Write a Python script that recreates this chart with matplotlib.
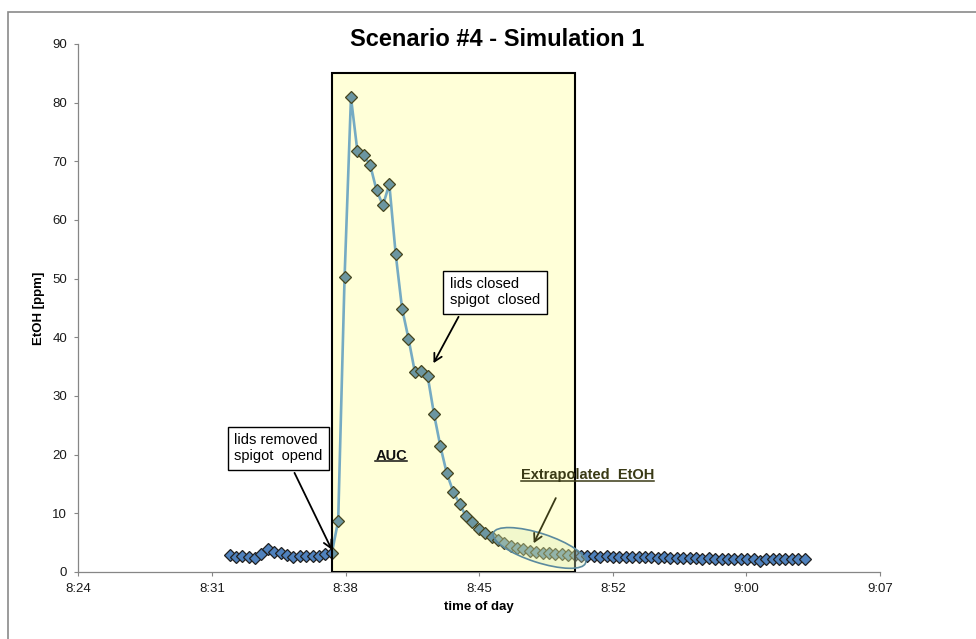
import matplotlib
matplotlib.use("Agg")
import matplotlib.pyplot as plt
import numpy as np
from matplotlib.patches import Rectangle, Ellipse
from matplotlib.lines import Line2D
from matplotlib.transforms import ScaledTranslation

plt.rcParams["font.family"] = ["Liberation Sans", "DejaVu Sans"]

# EtOH readings [ppm], one every ~20.7 s starting at 8:32:09
etoh_ppm = [
    2.9, 2.6, 2.8, 2.6, 2.4, 3.1, 3.9, 3.4, 3.2, 2.9, 2.6, 2.8, 2.8, 2.8, 2.8, 3.0, 3.2,
    8.7, 50.2, 80.9, 71.8, 71.0, 69.4, 65.1, 62.5, 66.1, 54.2,
    44.9, 39.8, 34.1, 34.3, 33.4, 26.9, 21.4, 16.8, 13.7, 11.6, 9.5, 8.5, 7.4, 6.6, 6.0,
    5.45, 4.9, 4.5, 4.15, 3.9, 3.6, 3.45, 3.3, 3.2, 3.1, 3.0, 2.9, 2.85,
    2.8, 2.75, 2.7, 2.6, 2.7, 2.6, 2.55, 2.6, 2.55, 2.5,
    2.55, 2.5, 2.4, 2.5, 2.45, 2.4, 2.4, 2.35, 2.4, 2.3,
    2.35, 2.3, 2.3, 2.25, 2.3, 2.2, 2.25, 2.2, 1.9, 2.2,
    2.25, 2.2, 2.2, 2.2, 2.2, 2.2,
]
first_sample = (8, 32, 9)          # h, m, s
sample_interval_s = 20.66

# AUC window (sample indices)
auc_start, auc_end = 16, 54
auc_top = 85
x_tick_labels = ["8:24", "8:31", "8:38", "8:45", "8:52", "9:00", "9:07"]
y_ticks = [0, 10, 20, 30, 40, 50, 60, 70, 80, 90]


def hm(h, m, s=0):
    """time of day -> minutes after 8:00"""
    return (h - 8) * 60 + m + s / 60.0


t0 = hm(*first_sample)
times = t0 + np.arange(len(etoh_ppm)) * sample_interval_s / 60.0

fig = plt.figure(figsize=(9.76, 6.39), dpi=100)
W, H = 976, 639
ax = fig.add_axes([78.3 / W, 67 / H, 801.7 / W, 528 / H])

# data series
ax.plot(times, etoh_ppm, color="#5A9AE6", lw=1.9, zorder=3,
        marker="D", markersize=5.8, markerfacecolor="#4F81BD",
        markeredgecolor="#202020", markeredgewidth=0.9)

# AUC region overlay
ax.add_patch(Rectangle((times[auc_start], 0), times[auc_end] - times[auc_start], auc_top,
                       facecolor=(1.0, 1.0, 0.1, 0.17), edgecolor="black",
                       lw=1.5, zorder=4))

# ellipse around the extrapolated tail
cx = (times[42] + times[55]) / 2
cy = 4.1
etrans = fig.dpi_scale_trans + ScaledTranslation(cx, cy, ax.transData)
ax.add_patch(Ellipse((0, 0), 0.97, 0.29, angle=-18, transform=etrans,
                     facecolor=(0.86, 0.92, 0.72, 0.35), edgecolor="#5B8A9E",
                     lw=1.2, zorder=5, clip_on=False))

# axes styling
tick_minutes = [24 + 7.2 * k for k in range(len(x_tick_labels))]
ax.set_xlim(tick_minutes[0], tick_minutes[-1])
ax.set_ylim(0, 90)
ax.set_xticks(tick_minutes)
ax.set_xticklabels(x_tick_labels)
ax.set_yticks(y_ticks)
for s in ("top", "right"):
    ax.spines[s].set_visible(False)
for s in ("left", "bottom"):
    ax.spines[s].set_color("#868686")
    ax.spines[s].set_linewidth(0.9)
ax.tick_params(direction="out", length=3, width=0.8, color="#868686",
               labelsize=9.5, pad=5, labelcolor="#1a1a1a")
ax.set_xlabel("time of day", fontsize=9.5, fontweight="bold", labelpad=4)
ax.set_ylabel("EtOH [ppm]", fontsize=9.5, fontweight="bold", labelpad=5)

fig.text(497 / W, 1 - 40 / H, "Scenario #4 - Simulation 1", fontsize=17,
         fontweight="bold", ha="center", va="center")

# annotation boxes
box = dict(boxstyle="square,pad=0.45", facecolor="white", edgecolor="black", lw=1.0)
ax.text(34.78, 21.1, "lids removed\nspigot  opend", fontsize=10.5, ha="center",
        va="center", multialignment="left", bbox=box, zorder=6, linespacing=1.15)
ax.text(46.45, 47.7, "lids closed\nspigot  closed", fontsize=10.5, ha="center",
        va="center", multialignment="left", bbox=box, zorder=6, linespacing=1.15)

arrow = dict(arrowstyle="->,head_length=0.55,head_width=0.3", color="black", lw=1.3,
             shrinkA=0, shrinkB=0)
ax.annotate("", xy=(times[auc_start], 3.8), xytext=(35.65, 16.9), arrowprops=arrow, zorder=7)
ax.annotate("", xy=(43.14, 35.6), xytext=(44.49, 43.5), arrowprops=arrow, zorder=7)
olive = "#3A3A16"
arrow_o = dict(arrow, color=olive)
ax.annotate("", xy=(48.54, 4.9), xytext=(49.73, 12.6), arrowprops=arrow_o, zorder=7)

auc_txt = ax.text(40.87, 19.8, "AUC", fontsize=10.5, fontweight="bold",
                  ha="center", va="center", zorder=6, color="#111111")
ext_txt = ax.text(51.43, 16.5, "Extrapolated  EtOH", fontsize=10.5, fontweight="bold",
                  ha="center", va="center", zorder=6, color=olive)

# outer chart border
fig.add_artist(Rectangle((7.5 / W, -0.05), 1.2, 1.05 - 12 / H, transform=fig.transFigure,
                         fill=False, edgecolor="#8a8a8a", lw=1.2))

# underline the bold labels
fig.canvas.draw()
inv = fig.transFigure.inverted()
for txt, col in ((auc_txt, "#111111"), (ext_txt, olive)):
    bb = txt.get_window_extent()
    (x0, y0), (x1, _) = inv.transform([(bb.x0, bb.y0 + 1.5), (bb.x1, bb.y0 + 1.5)])
    fig.add_artist(Line2D([x0, x1], [y0, y0], color=col, lw=1.1))

fig.savefig("out.png", dpi=100)
